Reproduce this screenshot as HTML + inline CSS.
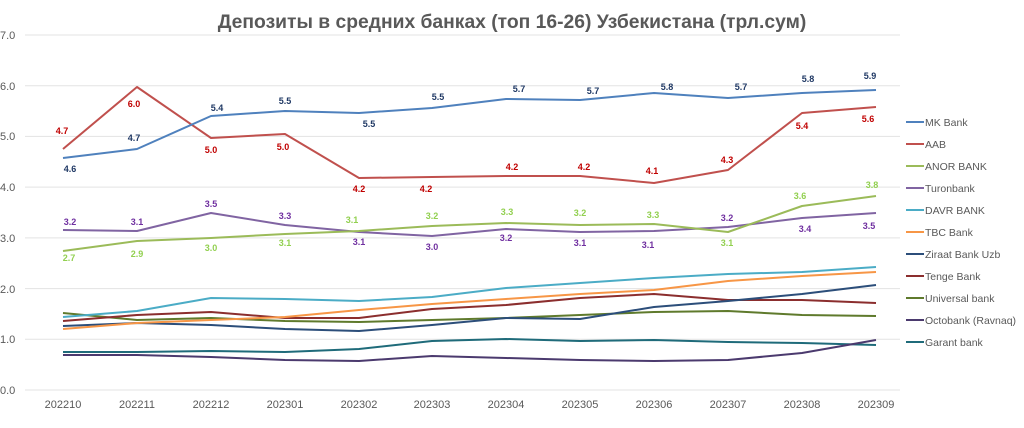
<!DOCTYPE html>
<html><head><meta charset="utf-8"><style>
body{margin:0;background:#fff;}
svg{display:block;font-family:"Liberation Sans",Arial,sans-serif;}
.g{stroke:#e3e3e3;stroke-width:1}
.ax{fill:#595959;font-size:11px}
.l{fill:none;stroke-width:2;stroke-linejoin:round}
.lb{font-size:9px;font-weight:bold;text-anchor:middle}
.lg{fill:#595959;font-size:10.5px}
</style></head><body>
<svg width="1024" height="428" viewBox="0 0 1024 428">
<rect width="1024" height="428" fill="#fff"/>
<text x="512" y="28" text-anchor="middle" font-size="19.3" font-weight="bold" fill="#595959">Депозиты в средних банках (топ 16-26) Узбекистана (трл.сум)</text>
<g class="g">
<line x1="25" y1="35" x2="900" y2="35"/><line x1="25" y1="85.7" x2="900" y2="85.7"/><line x1="25" y1="136.4" x2="900" y2="136.4"/><line x1="25" y1="187.1" x2="900" y2="187.1"/><line x1="25" y1="237.9" x2="900" y2="237.9"/><line x1="25" y1="288.6" x2="900" y2="288.6"/><line x1="25" y1="339.3" x2="900" y2="339.3"/><line x1="25" y1="390" x2="900" y2="390"/>
</g>
<g class="ax">
<text x="0" y="39">7.0</text><text x="0" y="90">6.0</text><text x="0" y="140">5.0</text><text x="0" y="191">4.0</text><text x="0" y="242">3.0</text><text x="0" y="293">2.0</text><text x="0" y="343">1.0</text><text x="0" y="394">0.0</text>
</g>
<g class="ax" text-anchor="middle">
<text x="63" y="408">202210</text><text x="137" y="408">202211</text><text x="211" y="408">202212</text><text x="285" y="408">202301</text><text x="359" y="408">202302</text><text x="432" y="408">202303</text><text x="506" y="408">202304</text><text x="580" y="408">202305</text><text x="654" y="408">202306</text><text x="728" y="408">202307</text><text x="802" y="408">202308</text><text x="876" y="408">202309</text>
</g>
<polyline class="l" stroke="#1f6b7a" points="63,352 137,352 211,351 285,352 359,349 432,341 506,339 580,341 654,340 728,342 802,343 876,345"/>
<polyline class="l" stroke="#4b3a6e" points="63,355 137,355 211,357 285,360 359,361 432,356 506,358 580,360 654,361 728,360 802,353 876,340"/>
<polyline class="l" stroke="#5f7a2c" points="63,313 137,320 211,318 285,321 359,322 432,320 506,318 580,315 654,312 728,311 802,315 876,316"/>
<polyline class="l" stroke="#8b2e2e" points="63,321 137,315 211,312 285,318 359,318 432,309 506,305 580,298 654,294 728,300 802,300 876,303"/>
<polyline class="l" stroke="#2c4e7a" points="63,326 137,323 211,325 285,329 359,331 432,325 506,318 580,319 654,307 728,301 802,294 876,285"/>
<polyline class="l" stroke="#f79646" points="63,329 137,323 211,320 285,317 359,310 432,304 506,299 580,294 654,290 728,281 802,276 876,272"/>
<polyline class="l" stroke="#4bacc6" points="63,317 137,311 211,298 285,299 359,301 432,297 506,288 580,283 654,278 728,274 802,272 876,267"/>
<polyline class="l" stroke="#8064a2" points="63,230 137,231 211,213 285,225 359,232 432,236 506,229 580,232 654,231 728,227 802,218 876,213"/>
<polyline class="l" stroke="#9bbb59" points="63,251 137,241 211,238 285,234 359,231 432,226 506,223 580,225 654,224 728,232 802,206 876,196"/>
<polyline class="l" stroke="#c0504d" points="63,149 137,87 211,138 285,134 359,178 432,177 506,176 580,176 654,183 728,170 802,113 876,107"/>
<polyline class="l" stroke="#4f81bd" points="63,158 137,149 211,116 285,111 359,113 432,108 506,99 580,100 654,93 728,98 802,93 876,90"/>
<g class="lb" fill="#1f3864">
<text x="70" y="172">4.6</text><text x="134" y="141">4.7</text><text x="217" y="111">5.4</text><text x="285" y="104">5.5</text><text x="369" y="127">5.5</text><text x="438" y="100">5.5</text><text x="519" y="92">5.7</text><text x="593" y="94">5.7</text><text x="667" y="90">5.8</text><text x="741" y="90">5.7</text><text x="808" y="82">5.8</text><text x="870" y="79">5.9</text>
</g>
<g class="lb" fill="#c00000">
<text x="62" y="134">4.7</text><text x="134" y="107">6.0</text><text x="211" y="153">5.0</text><text x="283" y="150">5.0</text><text x="359" y="192">4.2</text><text x="426" y="192">4.2</text><text x="512" y="170">4.2</text><text x="584" y="170">4.2</text><text x="652" y="174">4.1</text><text x="727" y="163">4.3</text><text x="802" y="129">5.4</text><text x="868" y="122">5.6</text>
</g>
<g class="lb" fill="#92d050">
<text x="69" y="261">2.7</text><text x="137" y="257">2.9</text><text x="211" y="251">3.0</text><text x="285" y="246">3.1</text><text x="352" y="223">3.1</text><text x="432" y="219">3.2</text><text x="507" y="215">3.3</text><text x="580" y="216">3.2</text><text x="653" y="218">3.3</text><text x="727" y="246">3.1</text><text x="800" y="199">3.6</text><text x="872" y="188">3.8</text>
</g>
<g class="lb" fill="#7030a0">
<text x="70" y="225">3.2</text><text x="137" y="225">3.1</text><text x="211" y="207">3.5</text><text x="285" y="219">3.3</text><text x="359" y="245">3.1</text><text x="432" y="250">3.0</text><text x="506" y="241">3.2</text><text x="580" y="246">3.1</text><text x="648" y="248">3.1</text><text x="727" y="221">3.2</text><text x="805" y="232">3.4</text><text x="869" y="229">3.5</text>
</g>
<g stroke-width="2">
<line x1="906" y1="122" x2="924" y2="122" stroke="#4f81bd"/>
<line x1="906" y1="144" x2="924" y2="144" stroke="#c0504d"/>
<line x1="906" y1="166" x2="924" y2="166" stroke="#9bbb59"/>
<line x1="906" y1="188" x2="924" y2="188" stroke="#8064a2"/>
<line x1="906" y1="210" x2="924" y2="210" stroke="#4bacc6"/>
<line x1="906" y1="232" x2="924" y2="232" stroke="#f79646"/>
<line x1="906" y1="254" x2="924" y2="254" stroke="#2c4e7a"/>
<line x1="906" y1="276" x2="924" y2="276" stroke="#8b2e2e"/>
<line x1="906" y1="298" x2="924" y2="298" stroke="#5f7a2c"/>
<line x1="906" y1="320" x2="924" y2="320" stroke="#4b3a6e"/>
<line x1="906" y1="342" x2="924" y2="342" stroke="#1f6b7a"/>
</g>
<g class="lg">
<text x="925" y="126">MK Bank</text><text x="925" y="148">AAB</text><text x="925" y="170">ANOR BANK</text><text x="925" y="192">Turonbank</text><text x="925" y="214">DAVR BANK</text><text x="925" y="236">TBC Bank</text><text x="925" y="258">Ziraat Bank Uzb</text><text x="925" y="280">Tenge Bank</text><text x="925" y="302">Universal bank</text><text x="925" y="324">Octobank (Ravnaq)</text><text x="925" y="346">Garant bank</text>
</g>
</svg>
</body></html>
